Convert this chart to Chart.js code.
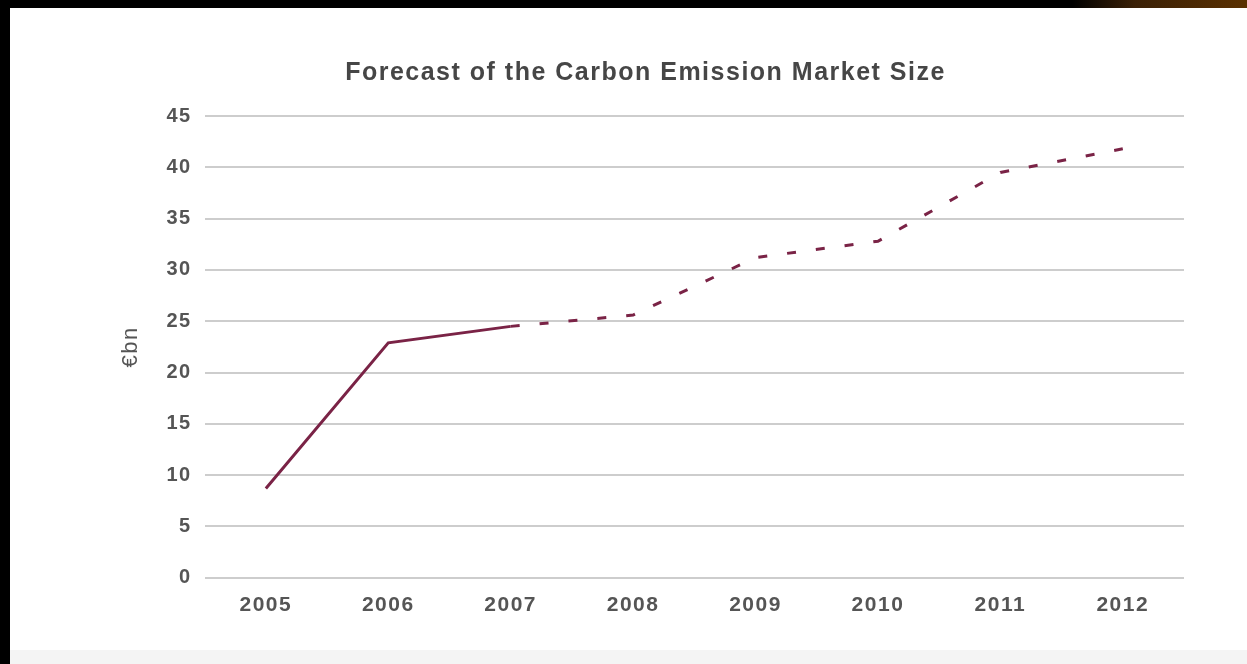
<!DOCTYPE html>
<html>
<head>
<meta charset="utf-8">
<script src="https://cdn.jsdelivr.net/npm/chart.js@4/dist/chart.umd.min.js"></script>
<style>
    html, body { margin: 0; padding: 0; background: #ffffff; }
    body { width: 1247px; height: 664px; position: relative; overflow: hidden; }
    .topbar { position: absolute; left: 0; top: 0; width: 1247px; height: 8px;
        background: linear-gradient(90deg, #000 0%, #000 86%, #3a2006 91%, #5a3000 100%); }
    .leftbar { position: absolute; left: 0; top: 0; width: 10px; height: 664px; background: #000; }
    .bottom { position: absolute; left: 10px; top: 650px; width: 1237px; height: 14px; background: #f4f4f4; }
    .wrap { position: absolute; left: 10px; top: 8px; width: 1237px; height: 642px; }
</style>
</head>
<body>
<div class="topbar"></div>
<div class="leftbar"></div>
<div class="bottom"></div>
<div class="wrap"><canvas id="myChart"></canvas></div>
<script>
// values
const years = ['2005', '2006', '2007', '2008', '2009', '2010', '2011', '2012'];
const marketSize = [8.7, 22.9, 24.5, 25.6, 31.2, 32.8, 39.5, 41.8];
const yTicks = [0, 5, 10, 15, 20, 25, 30, 35, 40, 45];
const lastActual = 2; // 2007 is the last solid point, the rest is forecast

const lineColor = '#7a2346';
const textColor = '#555';

// the source picture's text is drawn wide, so space the letters out a little
const wideText = {
    id: 'wideText',
    beforeDraw(chart) { chart.ctx.letterSpacing = '1.5px'; },
    beforeDatasetsDraw(chart) { chart.ctx.letterSpacing = '0px'; }
};

const ctx = document.getElementById('myChart');
new Chart(ctx, {
    type: 'line',
    data: {
        labels: years,
        datasets: [{
            label: 'Market size',
            data: marketSize,
            borderColor: lineColor,
            borderWidth: 3,
            pointRadius: 0,
            tension: 0,
            segment: {
                borderDash: c => c.p0DataIndex >= lastActual ? [9, 20] : undefined
            }
        }]
    },
    options: {
        responsive: true,
        maintainAspectRatio: false,
        animation: false,
        layout: {
            padding: { left: 97, right: 63, top: 50, bottom: 25 }
        },
        plugins: {
            legend: { display: false },
            tooltip: { enabled: false },
            title: {
                display: true,
                text: 'Forecast of the Carbon Emission Market Size',
                color: '#464646',
                font: { family: 'Liberation Sans', size: 25, weight: 'bold' },
                padding: { top: 0, bottom: 28 }
            }
        },
        scales: {
            x: {
                offset: true,
                grid: { display: false },
                border: { display: false },
                ticks: {
                    color: textColor,
                    padding: 7,
                    font: { family: 'Liberation Sans', size: 21, weight: 'bold' }
                }
            },
            y: {
                min: 0,
                max: 45,
                afterBuildTicks: axis => { axis.ticks = yTicks.map(v => ({ value: v })); },
                grid: { color: '#cdcdcd', lineWidth: 2, drawTicks: false },
                border: { display: false },
                ticks: {
                    color: textColor,
                    padding: 13,
                    font: { family: 'Liberation Sans', size: 20, weight: 'bold' }
                },
                title: {
                    display: true,
                    text: '€bn',
                    color: textColor,
                    font: { family: 'Liberation Sans', size: 22 },
                    padding: { top: 11, bottom: 12 }
                }
            }
        }
    },
    plugins: [wideText]
});
</script>
</body>
</html>
